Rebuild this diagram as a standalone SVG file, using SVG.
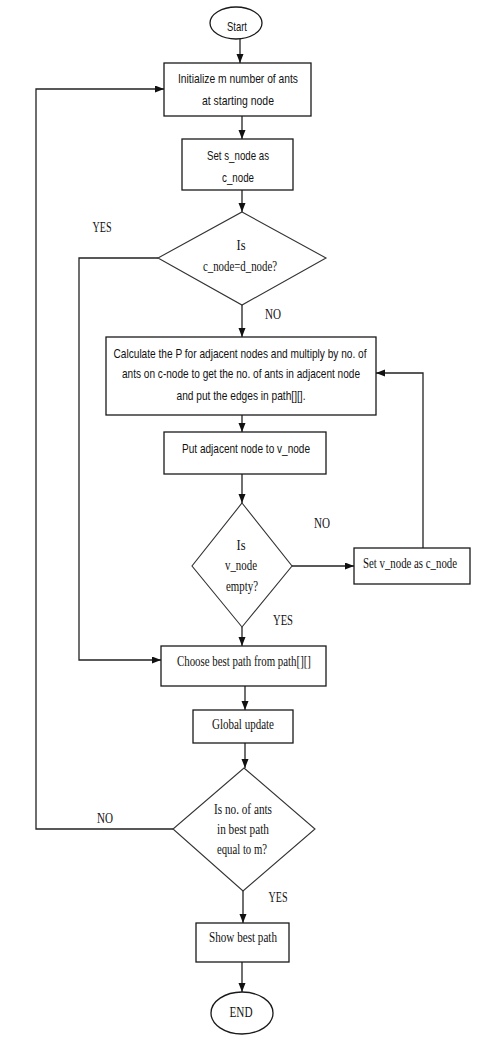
<svg xmlns="http://www.w3.org/2000/svg" width="487" height="1058" viewBox="0 0 487 1058">
<style>
.shape{fill:#fff;stroke:#1a1a1a;stroke-width:1.3}
.dia{fill:#fff;stroke:#333;stroke-width:1.1}
.conn{fill:none;stroke:#222;stroke-width:1.3}
.sans{font-family:"Liberation Sans",Arial,sans-serif;font-size:13.5px;fill:#111;text-anchor:middle}
.serif{font-family:"Liberation Serif","Times New Roman",serif;font-size:14.5px;fill:#111;text-anchor:middle}
</style>
<defs>
<marker id="arr" markerUnits="userSpaceOnUse" markerWidth="10" markerHeight="8" refX="9" refY="3.5" orient="auto">
<path d="M0,0 L9,3.5 L0,7 z" fill="#111"/>
</marker>
</defs>
<rect width="487" height="1058" fill="#fff"/>
<g id="connectors">
<path class="conn" marker-end="url(#arr)" d="M240,39 V63"/>
<path class="conn" marker-end="url(#arr)" d="M242,116 V139"/>
<path class="conn" marker-end="url(#arr)" d="M242,190 V212"/>
<path class="conn" marker-end="url(#arr)" d="M242,305 V337"/>
<path class="conn" marker-end="url(#arr)" d="M242,415 V432"/>
<path class="conn" marker-end="url(#arr)" d="M242,474 V503"/>
<path class="conn" marker-end="url(#arr)" d="M292,566 H354"/>
<path class="conn" marker-end="url(#arr)" d="M423,548 V373 H376"/>
<path class="conn" marker-end="url(#arr)" d="M242,627 V646"/>
<path class="conn" marker-end="url(#arr)" d="M158,258 H79 V660 H161"/>
<path class="conn" marker-end="url(#arr)" d="M245,686 V710"/>
<path class="conn" marker-end="url(#arr)" d="M245,743 V768"/>
<path class="conn" marker-end="url(#arr)" d="M243,891 V923"/>
<path class="conn" marker-end="url(#arr)" d="M242,962 V992"/>
<path class="conn" marker-end="url(#arr)" d="M173,829 H36 V89 H164"/>
<text class="serif" x="102" y="232" textLength="19" lengthAdjust="spacingAndGlyphs">YES</text>
<text class="serif" x="273" y="319" textLength="16" lengthAdjust="spacingAndGlyphs">NO</text>
<text class="serif" x="322" y="528" textLength="16" lengthAdjust="spacingAndGlyphs">NO</text>
<text class="serif" x="283" y="625" textLength="20" lengthAdjust="spacingAndGlyphs">YES</text>
<text class="serif" x="105" y="823" textLength="16" lengthAdjust="spacingAndGlyphs">NO</text>
<text class="serif" x="278" y="902" textLength="19" lengthAdjust="spacingAndGlyphs">YES</text>
</g>
<g id="start">
<ellipse class="shape" cx="236" cy="23" rx="26" ry="16"/>
<text class="sans" x="237" y="31" textLength="20" lengthAdjust="spacingAndGlyphs">Start</text>
</g>
<g id="init">
<rect class="shape" x="164" y="63" width="147" height="53"/>
<text class="sans" x="238" y="83" textLength="120" lengthAdjust="spacingAndGlyphs">Initialize m number of ants</text>
<text class="sans" x="238" y="105" textLength="72" lengthAdjust="spacingAndGlyphs">at starting node</text>
</g>
<g id="set-s">
<rect class="shape" x="182" y="139" width="111" height="51"/>
<text class="sans" x="238" y="160" textLength="62" lengthAdjust="spacingAndGlyphs">Set s_node as</text>
<text class="sans" x="238" y="182" textLength="32" lengthAdjust="spacingAndGlyphs">c_node</text>
</g>
<g id="dec1">
<polygon class="dia" points="242,212 326,258 242,305 158,258"/>
<text class="serif" x="241" y="250" textLength="9" lengthAdjust="spacingAndGlyphs">Is</text>
<text class="serif" x="240" y="271" textLength="74" lengthAdjust="spacingAndGlyphs">c_node=d_node?</text>
</g>
<g id="calc">
<rect class="shape" x="106" y="337" width="270" height="78"/>
<text class="sans" x="240" y="358" textLength="253" lengthAdjust="spacingAndGlyphs">Calculate the P for adjacent nodes and multiply by no. of</text>
<text class="sans" x="241" y="378" textLength="238" lengthAdjust="spacingAndGlyphs">ants on c-node to get the no. of ants in adjacent node</text>
<text class="sans" x="241" y="400" textLength="129" lengthAdjust="spacingAndGlyphs">and put the edges in path[][].</text>
</g>
<g id="put">
<rect class="shape" x="164" y="432" width="162" height="42"/>
<text class="sans" x="246" y="453" textLength="128" lengthAdjust="spacingAndGlyphs">Put adjacent node to v_node</text>
</g>
<g id="dec2">
<polygon class="dia" points="242,503 292,566 242,627 192,566"/>
<text class="serif" x="241" y="550" textLength="9" lengthAdjust="spacingAndGlyphs">Is</text>
<text class="serif" x="241" y="570" textLength="32" lengthAdjust="spacingAndGlyphs">v_node</text>
<text class="serif" x="242" y="591" textLength="32" lengthAdjust="spacingAndGlyphs">empty?</text>
</g>
<g id="set-v">
<rect class="shape" x="354" y="548" width="116" height="36"/>
<text class="serif" x="410" y="568" textLength="94" lengthAdjust="spacingAndGlyphs">Set v_node as c_node</text>
</g>
<g id="choose">
<rect class="shape" x="161" y="646" width="165" height="40"/>
<text class="serif" x="244" y="666" textLength="134" lengthAdjust="spacingAndGlyphs">Choose best path from path[][]</text>
</g>
<g id="global">
<rect class="shape" x="193" y="710" width="100" height="33"/>
<text class="serif" x="243" y="729" textLength="62" lengthAdjust="spacingAndGlyphs">Global update</text>
</g>
<g id="dec3">
<polygon class="dia" points="244,768 315,829 243,891 173,829"/>
<text class="serif" x="243" y="814" textLength="58" lengthAdjust="spacingAndGlyphs">Is no. of ants</text>
<text class="serif" x="243" y="834" textLength="52" lengthAdjust="spacingAndGlyphs">in best path</text>
<text class="serif" x="242" y="854" textLength="50" lengthAdjust="spacingAndGlyphs">equal to m?</text>
</g>
<g id="show">
<rect class="shape" x="196" y="923" width="93" height="39"/>
<text class="serif" x="243" y="942" textLength="68" lengthAdjust="spacingAndGlyphs">Show best path</text>
</g>
<g id="end">
<ellipse class="shape" cx="242" cy="1013" rx="31" ry="21"/>
<text class="serif" x="241" y="1017" textLength="23" lengthAdjust="spacingAndGlyphs">END</text>
</g>
</svg>
